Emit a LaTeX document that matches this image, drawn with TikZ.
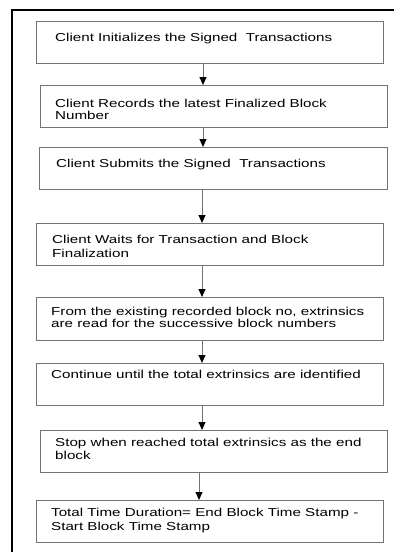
\documentclass[tikz,border=0pt]{standalone}
\usepackage{fontspec}
\setmainfont{Liberation Sans}[FakeStretch=1.32]
\usetikzlibrary{arrows.meta}
\begin{document}
\begin{tikzpicture}[x=1pt,y=-1pt,
  boxstyle/.style={draw=black!55,line width=0.9pt,inner sep=0pt,anchor=north west},
  txt/.style={anchor=north west,inner sep=0pt,align=left,font=\fontsize{11.5}{13}\selectfont},
  arr/.style={draw=black!55,line width=1pt,-{Triangle[length=8pt,width=7pt,color=black]}},
  frame/.style={draw=black,line width=1.1pt}]
\useasboundingbox (0,0) rectangle (394,552);
\fill[white] (0,0) rectangle (394,552);
\draw[frame] (12,552) -- (12,10) -- (394,10);
% boxes
\node[boxstyle,minimum width=347,minimum height=42] (b1) at (36,21) {};
\node[boxstyle,minimum width=347,minimum height=42] (b2) at (40,85) {};
\node[boxstyle,minimum width=348,minimum height=42] (b3) at (39,147) {};
\node[boxstyle,minimum width=347,minimum height=42] (b4) at (36,223) {};
\node[boxstyle,minimum width=347,minimum height=43] (b5) at (36,297) {};
\node[boxstyle,minimum width=347,minimum height=42] (b6) at (36,363) {};
\node[boxstyle,minimum width=347,minimum height=42] (b7) at (40,430) {};
\node[boxstyle,minimum width=347,minimum height=42] (b8) at (36,500) {};
% texts
\node[txt] (t1) at (55,33.3) {Client Initializes the Signed\ \ Transactions};
\node[txt,font=\fontsize{11.5}{12}\selectfont] (t2) at (55,99.3) {Client Records the latest Finalized Block\\Number};
\node[txt] (t3) at (56,159.3) {Client Submits the Signed\ \ Transactions};
\node[txt,font=\fontsize{11.5}{14}\selectfont] (t4) at (52,235) {Client Waits for Transaction and Block\\Finalization};
\node[txt,font=\fontsize{11.5}{11.5}\selectfont] (t5) at (51,307) {From the existing recorded block no, extrinsics\\are read for the successive block numbers};
\node[txt] (t6) at (51,370) {Continue until the total extrinsics are identified};
\node[txt,font=\fontsize{11.5}{13.3}\selectfont] (t7) at (55,437.7) {Stop when reached total extrinsics as the end\\block};
\node[txt,font=\fontsize{11.5}{14}\selectfont] (t8) at (51,507.7) {Total Time Duration= End Block Time Stamp -\\Start Block Time Stamp};
% arrows
\draw[arr] (b1.south -| 203,0) -- (b2.north -| 203,0);
\draw[arr] (b2.south -| 203,0) -- (b3.north -| 203,0);
\draw[arr] (b3.south -| 202,0) -- (b4.north -| 202,0);
\draw[arr] (b4.south -| 202,0) -- (b5.north -| 202,0);
\draw[arr] (b5.south -| 202,0) -- (b6.north -| 202,0);
\draw[arr] (b6.south -| 202,0) -- (b7.north -| 202,0);
\draw[arr] (b7.south -| 199,0) -- (b8.north -| 199,0);
\end{tikzpicture}
\end{document}
